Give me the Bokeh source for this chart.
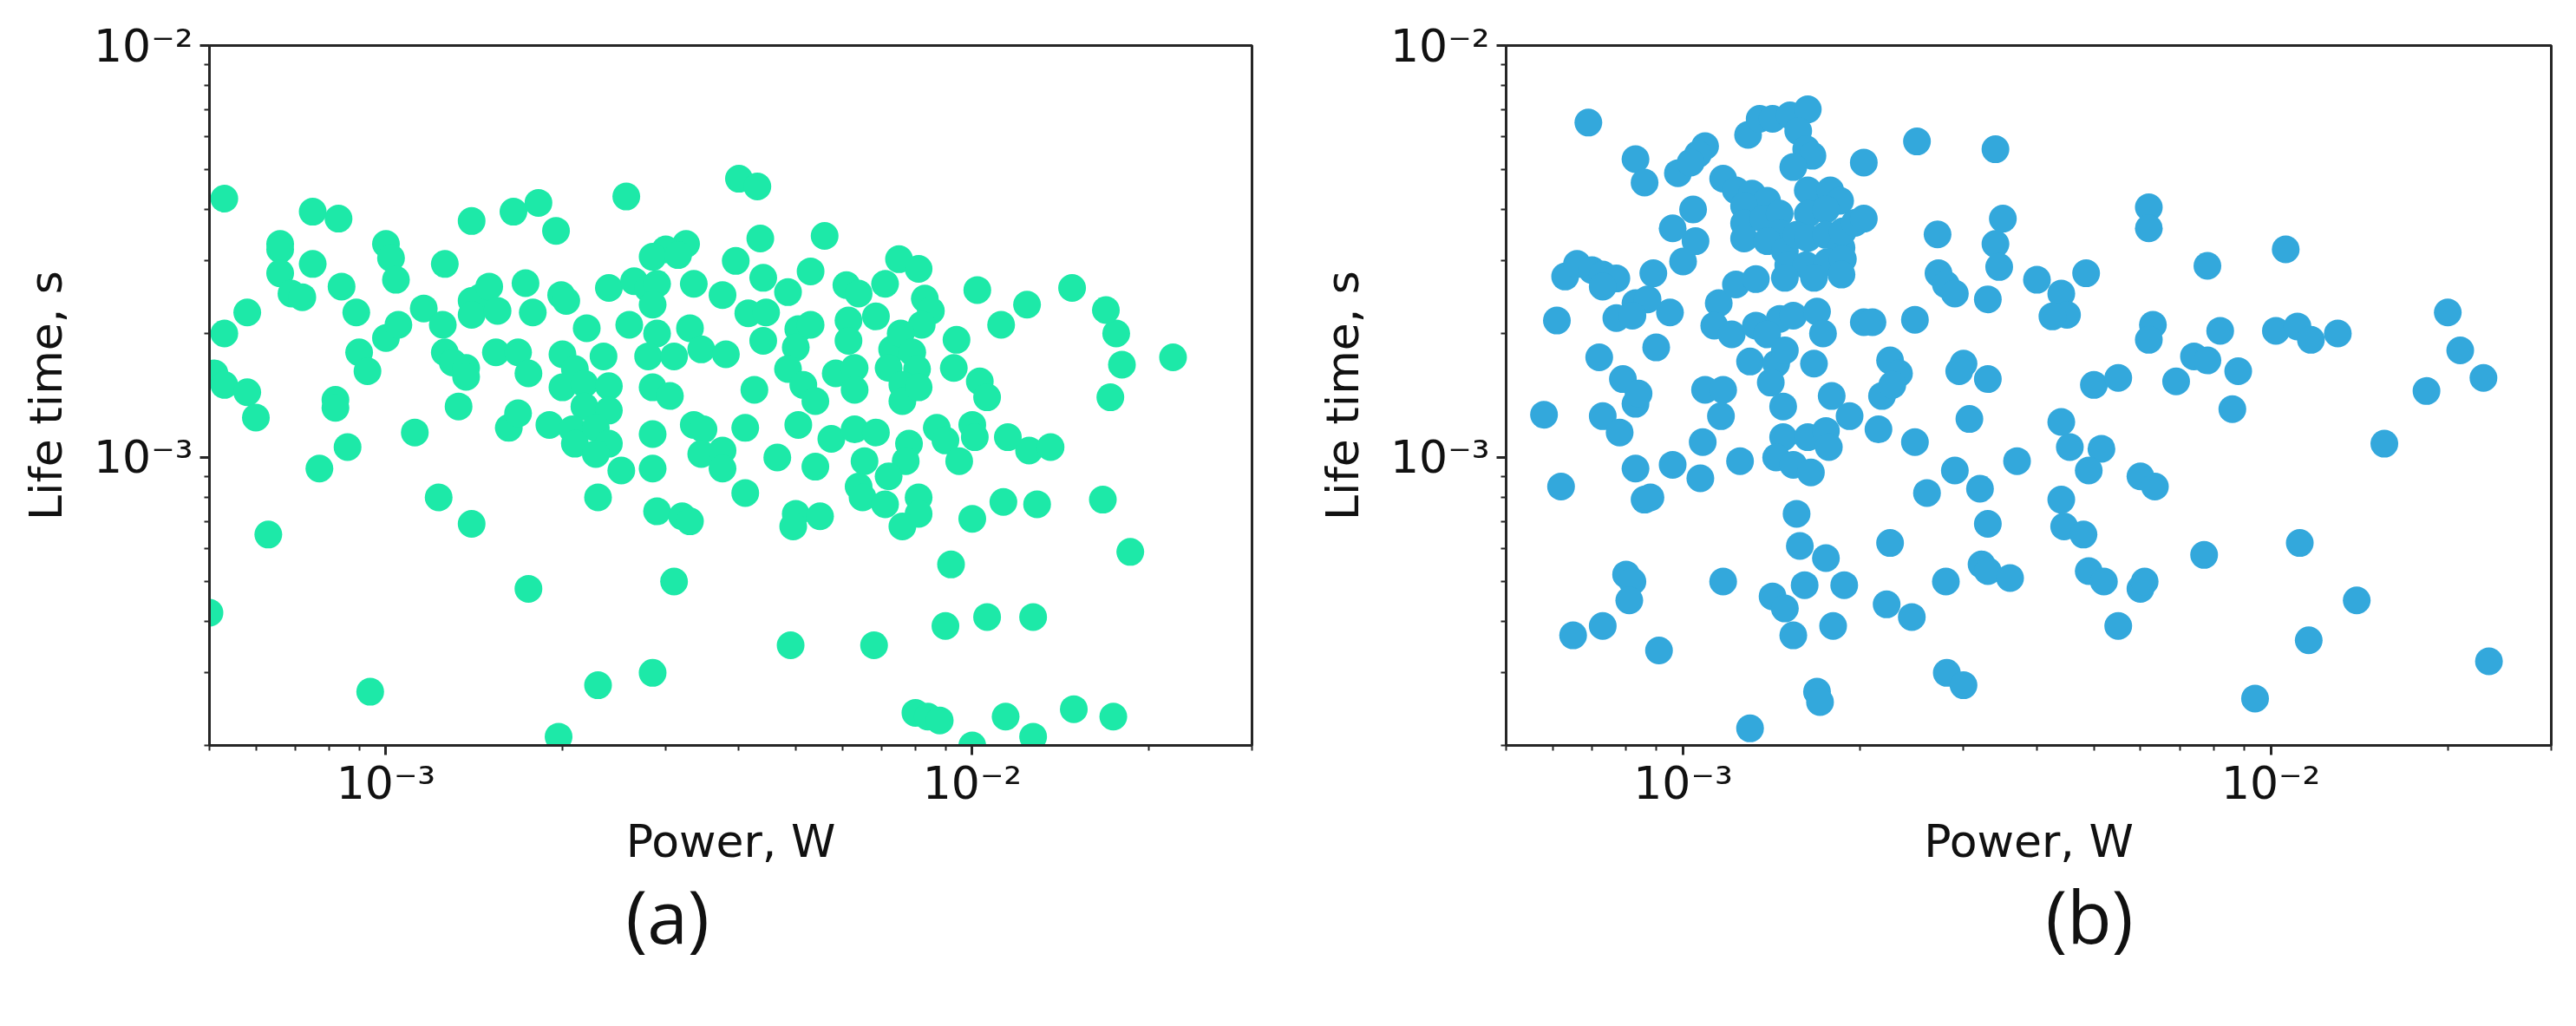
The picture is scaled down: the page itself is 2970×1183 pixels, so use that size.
from bokeh.plotting import figure
from bokeh.models import Range1d, FixedTicker, CustomJSTickFormatter, Title
from bokeh.layouts import row
from bokeh.embed import file_html
from bokeh.resources import INLINE

# ---------------- data (power in mW, life time in ms) ----------------
power_a_mW = [
    0.53, 0.75, 0.83, 0.66, 0.66, 1.0, 1.02, 1.04, 0.75, 0.66, 0.69, 0.72, 0.84, 0.58, 0.53, 0.89,
    1.0, 1.05, 1.16, 0.51, 0.53, 0.58, 0.6, 0.9, 0.93, 0.82, 0.82, 1.12, 0.86, 0.77, 0.63, 0.5, 0.94,
    1.23, 1.4, 1.33, 1.26, 1.3, 1.37, 1.37, 1.25, 1.4, 1.45, 1.4, 1.54, 1.68, 1.75, 1.62, 1.68, 1.75,
    1.97, 1.65, 1.82, 1.95, 1.4, 1.26,
    2.57, 4.0, 4.3, 4.35, 5.6, 3.25, 3.0,
    2.85, 3.15, 3.95, 7.5, 8.1, 1.5, 1.73, 1.55, 1.78, 1.99, 2.03, 2.4, 2.65, 2.8, 2.9, 2.85, 2.6,
    3.35, 3.75, 4.15, 4.4, 4.85, 4.45, 5.3, 6.1, 6.4, 7.1, 8.3, 8.5, 8.2, 10.2, 14.8, 12.4, 11.2,
    9.4, 9.3, 10.3, 10.6,
    2.2, 2.35, 2.0, 2.1, 2.0, 2.18, 2.4, 2.18, 2.4, 1.9, 2.08, 2.28, 2.1, 2.4, 2.28, 2.52,
    2.9, 2.8, 3.1, 3.3, 3.45, 3.8, 2.85, 3.05, 2.85, 2.85, 3.35, 3.48, 3.45, 3.75, 3.75, 4.1, 4.1,
    4.65, 5.4, 4.4,
    5.05, 5.3, 5.0, 4.85, 5.15, 5.4, 5.05, 4.25, 5.75, 6.3, 6.85, 6.15, 6.15, 5.85, 6.3, 6.3, 6.85,
    7.3, 7.2, 7.55, 7.9, 8.05, 7.6, 7.6, 8.1, 8.7, 9.0, 9.5, 10.0, 10.1, 11.5, 12.5, 13.6, 7.8, 7.7,
    6.55, 7.2, 6.4, 6.5, 7.1, 8.1, 8.1, 7.6, 5.0, 5.5, 4.95, 10.0, 11.3, 12.9, 9.2, 2.3, 2.9, 3.2,
    3.3, 3.1, 4.9, 6.8, 9.0, 10.6, 12.7, 2.3, 2.85,
    16.7, 17.2, 18.0, 17.6, 16.9, 22.0, 18.6, 8.0, 8.4, 8.8, 11.4, 14.9, 17.4, 10.0, 12.7,
]
life_a_ms = [
    4.25, 3.95, 3.8, 3.3, 3.2, 3.3, 3.05, 2.7, 2.95, 2.8, 2.5, 2.45, 2.6, 2.25, 2.0, 2.25,
    1.95, 2.1, 2.3, 1.6, 1.5, 1.44, 1.25, 1.8, 1.62, 1.38, 1.32, 1.15, 1.06, 0.94, 0.65, 0.42, 0.27,
    0.8, 0.69, 1.33, 1.8, 1.7, 1.65, 1.57, 2.1, 2.4, 2.45, 2.22, 1.8, 1.8, 1.6, 1.18, 1.28, 0.48,
    0.21, 3.95, 4.15, 3.55, 3.75, 2.95,
    4.3, 4.75, 4.55, 3.4, 3.45, 3.3, 3.2,
    3.07, 3.1, 3.0, 3.03, 2.87, 2.6, 2.65, 2.27, 2.25, 2.48, 2.4, 2.58, 2.68, 2.57, 2.64, 2.35, 2.1,
    2.64, 2.48, 2.24, 2.73, 2.52, 2.25, 2.83, 2.62, 2.5, 2.64, 2.43, 2.27, 2.1, 2.55, 2.58, 2.35, 2.1,
    1.93, 1.65, 1.53, 1.4,
    2.06, 1.76, 1.78, 1.64, 1.48, 1.51, 1.49, 1.33, 1.3, 1.2, 1.17, 1.18, 1.08, 1.08, 1.02, 0.93,
    2.0, 1.76, 1.76, 2.06, 1.83, 1.78, 1.48, 1.41, 1.14, 0.94, 1.2, 1.17, 1.02, 1.04, 0.94, 1.18, 0.82,
    1.0, 0.95, 1.92,
    2.05, 2.1, 1.85, 1.64, 1.5, 1.37, 1.2, 1.46, 1.11, 1.17, 1.15, 2.15, 1.92, 1.6, 1.65, 1.46, 2.2,
    1.83, 1.65, 2.0, 1.8, 1.64, 1.5, 1.37, 1.48, 1.18, 1.1, 0.98, 1.2, 1.12, 1.12, 1.04, 1.06, 1.08, 0.98,
    0.98, 0.9, 0.85, 0.8, 0.77, 0.8, 0.73, 0.68, 0.73, 0.72, 0.68, 0.71, 0.78, 0.77, 0.55, 0.8, 0.74, 0.72,
    0.7, 0.5, 0.35, 0.35, 0.39, 0.41, 0.41, 0.28, 0.3,
    0.79, 1.4, 1.68, 2.0, 2.28, 1.75, 0.59, 0.24, 0.235, 0.23, 0.235, 0.245, 0.235, 0.2, 0.21,
]

power_b_mW = [
    0.69, 0.83, 0.86, 0.63, 0.66, 0.7, 0.73, 0.77, 0.73, 0.61, 0.72, 0.79, 0.58, 0.73, 0.78, 0.83,
    0.84, 0.62, 0.83, 0.86, 0.88, 0.8, 0.82, 0.81, 0.65, 0.73, 0.91, 0.96, 1.07, 1.08, 0.9, 0.89,
    0.83, 0.87, 0.95, 0.77, 0.82,
    1.09, 1.06, 0.98, 1.03, 1.17,
    1.04, 0.96, 1.05, 1.0,
    1.29, 1.35, 1.42, 1.52, 1.63, 1.57, 1.62, 1.66, 1.54, 1.63, 1.78, 1.85, 1.63, 1.75,
    1.23, 1.31, 1.39, 1.27, 1.27, 1.27, 1.37, 1.46, 1.46,
    1.39, 1.49, 1.56, 1.63, 1.75, 1.86, 1.87, 1.96, 1.51, 1.62, 1.76, 1.87, 1.49, 1.67, 1.86, 2.03,
    1.09, 1.17, 1.16,
    1.15, 1.23, 1.33,
    1.13, 1.21, 1.33, 1.46, 1.54, 1.69, 1.73, 1.39,
    1.3, 1.44, 1.49, 1.67, 1.41,
    1.48, 1.79, 1.92, 2.15,
    2.25, 2.33, 2.18, 2.27,
    2.48, 2.03, 2.1, 2.48,
    1.48, 1.63, 1.75, 1.44, 1.54, 1.65, 1.77, 1.25,
    1.56, 1.58, 1.75, 1.88, 1.61, 1.42, 1.49,
    2.25, 2.6, 2.9, 3.07, 3.2, 3.3, 3.22, 3.3, 3.6, 2.8, 1.17,
    3.0, 2.95, 3.3, 2.72, 2.8, 2.9, 2.71, 3.3, 3.4, 3.45, 3.4, 3.5,
    2.03, 2.5,
    4.0, 4.4, 4.5, 4.25, 4.85, 5.0, 5.5, 4.4, 4.55, 5.15, 4.9, 4.4, 4.45, 4.8, 4.9, 5.2, 5.5, 6.0,
    6.1, 6.0, 6.35, 6.2, 6.2, 6.3, 6.2, 6.9, 7.4, 7.8, 7.8, 8.2, 8.8, 8.6, 7.7, 10.6, 10.2, 11.1,
    11.7, 13.0, 15.6, 11.2, 14.0, 11.6, 9.4, 20.0, 21.0, 23.0, 18.4, 23.5, 2.81, 3.0, 1.69, 1.71,
    1.3, 1.8, 1.54, 2.22, 2.45, 3.7,
]
life_b_ms = [
    6.5, 5.3, 4.65, 2.75, 2.95, 2.85, 2.78, 2.72, 2.6, 2.15, 1.75, 1.55, 1.27, 1.26, 1.15, 1.35,
    1.43, 0.85, 0.94, 0.79, 0.8, 0.52, 0.5, 0.45, 0.37, 0.39, 0.34, 0.96, 0.89, 1.09, 1.85, 2.8,
    2.37, 2.42, 2.25, 2.18, 2.21,
    5.7, 5.45, 4.9, 5.2, 4.75,
    4.0, 3.6, 3.35, 2.99,
    6.07, 6.64, 6.64, 6.77, 7.0, 6.2, 5.6, 5.4, 5.07, 4.45, 4.45, 4.2, 3.9, 4.0,
    4.45, 4.37, 4.2, 4.08, 3.7, 3.4, 3.8, 3.91, 3.5,
    3.35, 3.17, 3.47, 3.41, 3.47, 3.23, 3.54, 3.71, 2.93, 2.93, 2.98, 3.03, 2.73, 2.73, 2.78, 3.8,
    1.46, 1.46, 1.26,
    2.37, 2.63, 2.71,
    2.09, 1.99, 2.09, 2.17, 2.21, 2.26, 2.0, 1.99,
    1.71, 1.69, 1.82, 1.69, 1.52,
    1.33, 1.41, 1.26, 1.17,
    1.72, 1.6, 1.41, 1.5,
    2.16, 2.13, 2.13, 1.09,
    1.12, 1.12, 1.16, 1.0, 0.96, 0.92, 1.06, 0.98,
    0.73, 0.61, 0.57, 0.49, 0.49, 0.46, 0.43,
    0.62, 0.82, 0.93, 1.24, 0.84, 0.69, 0.55, 0.53, 0.51, 0.5, 0.5,
    1.69, 1.62, 1.55, 2.8, 2.63, 2.5, 3.48, 2.42, 3.3, 2.9, 5.6, 3.8,
    5.2, 5.85,
    2.7, 2.5, 2.22, 2.2, 2.8, 1.5, 1.56, 1.22, 1.06, 1.05, 0.93, 0.79, 0.68, 0.65, 0.53, 0.5, 0.39, 0.48,
    0.5, 0.9, 0.85, 4.05, 3.6, 2.1, 1.93, 1.53, 1.76, 1.72, 2.92, 2.03, 1.62, 1.31, 0.58, 3.2, 2.03, 2.08,
    1.93, 2.0, 1.08, 0.62, 0.45, 0.36, 0.26, 2.25, 1.82, 1.56, 1.45, 0.32, 0.3, 0.28, 0.27, 0.255,
    0.22, 0.39, 0.37, 0.44, 0.41, 0.98,
]

x_major = [1e-3, 1e-2]
x_minor = [5e-4, 6e-4, 7e-4, 8e-4, 9e-4, 2e-3, 3e-3, 4e-3, 5e-3, 6e-3, 7e-3, 8e-3, 9e-3, 2e-2, 3e-2]
y_major = [1e-3, 1e-2]
y_minor = [2e-4, 3e-4, 4e-4, 5e-4, 6e-4, 7e-4, 8e-4, 9e-4, 2e-3, 3e-3, 4e-3, 5e-3, 6e-3, 7e-3, 8e-3, 9e-3]
x_label = "Power, W"
y_label = "Life time, s"
panel_tags = ["(a)", "(b)"]
colors = ["#1de9a8", "#33a8dc"]

FIG_H = 1167
AX = "#262626"


def make_panel(power_mW, life_ms, color, tag, width, bl, br, tag_offset):
    p = figure(width=width, height=FIG_H, x_axis_type="log", y_axis_type="log",
               x_range=Range1d(5e-4, 3e-2), y_range=Range1d(2e-4, 1e-2),
               output_backend="svg", toolbar_location=None,
               min_border_left=bl, min_border_right=br,
               min_border_top=52, min_border_bottom=308)
    xs = [v * 1e-3 for v in power_mW]
    ys = [v * 1e-3 for v in life_ms]
    p.scatter(xs, ys, size=32, fill_color=color, line_color=None)

    p.xgrid.visible = False
    p.ygrid.visible = False
    p.outline_line_color = AX
    p.outline_line_width = 3
    p.outline_line_alpha = 1.0
    p.background_fill_color = "white"
    p.border_fill_color = "white"

    fmt = CustomJSTickFormatter(code="return tick < 0.005 ? '10\u207b\u00b3' : '10\u207b\u00b2';")
    p.xaxis.ticker = FixedTicker(ticks=x_major, minor_ticks=x_minor)
    p.yaxis.ticker = FixedTicker(ticks=y_major, minor_ticks=y_minor)
    for ax in (p.xaxis, p.yaxis):
        ax.formatter = fmt
        ax.axis_line_color = AX
        ax.axis_line_width = 3
        ax.major_tick_line_color = AX
        ax.major_tick_line_width = 3
        ax.minor_tick_line_color = AX
        ax.minor_tick_line_width = 2
        ax.major_tick_in = 0
        ax.major_tick_out = 11
        ax.minor_tick_in = 0
        ax.minor_tick_out = 6
        ax.major_label_text_font = "DejaVu Sans"
        ax.major_label_text_font_size = "52px"
        ax.major_label_text_color = "#111111"
        ax.axis_label_text_font = "DejaVu Sans"
        ax.axis_label_text_font_size = "52px"
        ax.axis_label_text_font_style = "normal"
        ax.axis_label_text_color = "#111111"
    p.xaxis.axis_label = x_label
    p.yaxis.axis_label = y_label
    p.xaxis.major_label_standoff = 2
    p.xaxis.axis_label_standoff = 4
    p.yaxis.major_label_standoff = 8
    p.yaxis.axis_label_standoff = 22

    p.add_layout(Title(text=tag, align="left", offset=tag_offset, standoff=-14,
                       text_font="Open Sans", text_font_size="84px",
                       text_font_style="normal", text_color="#111111"), "below")
    return p


pa = make_panel(power_a_mW, life_a_ms, colors[0], panel_tags[0], 1477, 241, 34, 480)
pb = make_panel(power_b_mW, life_b_ms, colors[1], panel_tags[1], 1477, 259, 13, 622)

layout = row(pa, pb)
open("out.html", "w").write(file_html(layout, INLINE))
